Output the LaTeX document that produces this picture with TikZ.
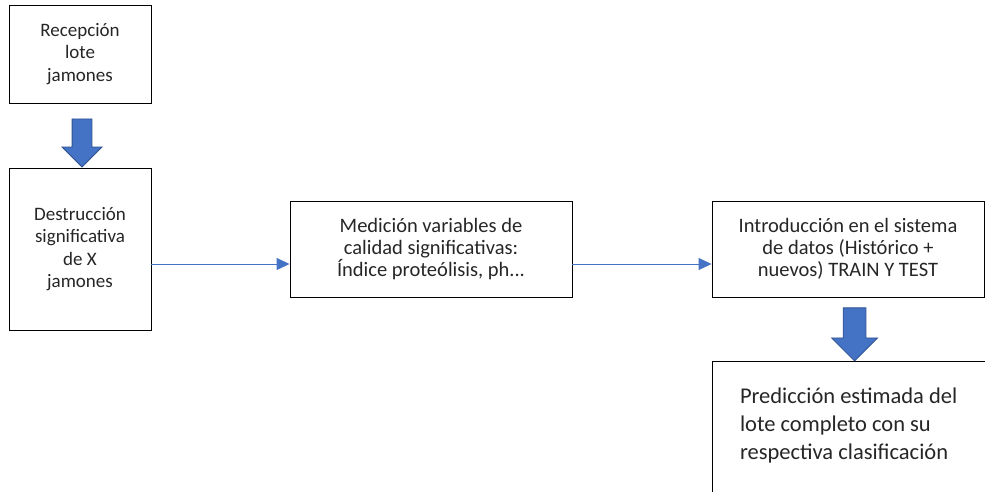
\documentclass[tikz,border=0pt]{standalone}
\usepackage{fontspec}
\setmainfont{Carlito}
\usetikzlibrary{arrows.meta, shapes.arrows, positioning}
\definecolor{azul}{HTML}{4472C4}
\definecolor{azuloscuro}{HTML}{2F528F}

\begin{document}
\begin{tikzpicture}[x=1pt, y=-1pt, on grid,
		caja/.style = {draw, line width=0.9pt, align=center, inner sep=0pt, text=black!85, font=\fontsize{19}{22.5}\selectfont},
		grande/.style = {font=\fontsize{20.5}{22}\selectfont},
		flecha/.style = {single arrow, rotate=-90, fill=azul, draw=azuloscuro, line width=0.8pt, inner xsep=0pt},
		conector/.style = {-{Triangle[length=13pt, width=12pt]}, azul, line width=1pt}]
		\useasboundingbox (0,0) rectangle (985,491);
		\clip (0,0) rectangle (985,491);
		\node[caja, minimum width=142pt, minimum height=98pt] (recepcion) at (80,54) {Recepción\\lote\\jamones};
		\node[caja, minimum width=142pt, minimum height=162pt, below = 195pt of recepcion] (destruccion) {Destrucción\\significativa\\de X\\jamones};
		\node[caja, grande, minimum width=282pt, minimum height=96pt, right = 351pt of destruccion] (medicion) {Medición variables de\\calidad significativas:\\Índice proteólisis, ph...};
		\node[caja, grande, minimum width=272pt, minimum height=96pt, right = 417pt of medicion] (introduccion) {Introducción en el sistema\\de datos (Histórico +\\nuevos) TRAIN Y TEST};
		\node[caja, anchor=north west, align=flush left, text width=272pt, inner xsep=28pt, inner ysep=26pt, font=\fontsize{22.5}{28}\selectfont] (prediccion) at ([yshift=-64pt]introduccion.south west) {Predicción estimada del\\lote completo con su\\respectiva clasificación\rule[-70pt]{0pt}{0pt}};
		
		\node[flecha, minimum height=48pt, inner ysep=9.5pt, single arrow head extend=10pt, anchor=tip] (flecha1) at ([xshift=2pt]destruccion.north) {};
		\node[flecha, minimum height=53pt, inner ysep=11pt, single arrow head extend=11.5pt, anchor=tip] (flecha2) at ([xshift=143pt]prediccion.north west) {};
		
		\draw[conector] ([yshift=-15pt]destruccion.east) -- ([yshift=-15pt]medicion.west);
		\draw[conector] ([yshift=-15pt]medicion.east) -- ([yshift=-15pt]introduccion.west);
\end{tikzpicture}
\end{document}
